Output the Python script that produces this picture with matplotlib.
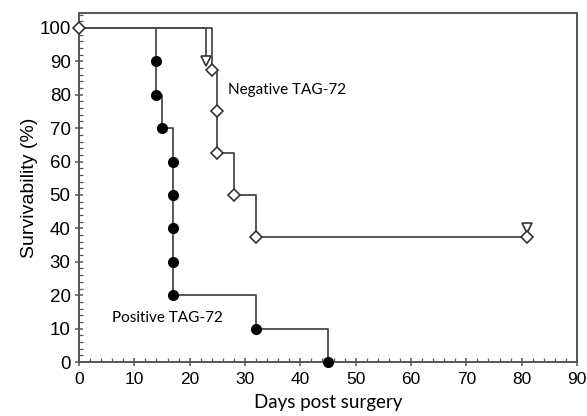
import matplotlib
matplotlib.use("Agg")
import matplotlib.pyplot as plt
from matplotlib.ticker import MultipleLocator

# positive TAG-72 (filled circles)
pos_days = [0, 14, 14, 15, 17, 17, 17, 17, 17, 32, 45]
pos_surv = [100, 90, 80, 70, 60, 50, 40, 30, 20, 10, 0]

# negative TAG-72 (open diamonds)
neg_days = [0, 24, 25, 25, 28, 32, 81]
neg_surv = [100, 87.5, 75, 62.5, 50, 37.5, 37.5]

# second negative curve (open triangles)
tri_days = [0, 23]
tri_surv = [100, 90]
tri_end_days = [23, 81]
tri_end_surv = [90, 40]

line_col = '#4a4a4a'

fig = plt.figure(figsize=(5.87, 4.16), dpi=100)
ax = fig.add_axes([0.1346, 0.1298, 0.8484, 0.8392])

ax.plot(tri_days, tri_surv, drawstyle='steps-post', color=line_col, lw=1.3)
ax.plot(tri_end_days, tri_end_surv, ls='none', marker='v', ms=7,
        mfc='white', mec='#333333', mew=1.2)

ax.plot(neg_days, neg_surv, drawstyle='steps-post', color=line_col, lw=1.3)
ax.plot(neg_days, neg_surv, ls='none', marker='D', ms=6,
        mfc='white', mec='#333333', mew=1.2, zorder=4, clip_on=False)

ax.plot(pos_days, pos_surv, drawstyle='steps-post', color=line_col, lw=1.3)
ax.plot(pos_days[1:], pos_surv[1:], ls='none', marker='o', ms=7,
        mfc='black', mec='black', zorder=5, clip_on=False)

ax.set_xlim(0, 90)
ax.set_ylim(0, 104.5)
ax.xaxis.set_major_locator(MultipleLocator(10))
ax.xaxis.set_minor_locator(MultipleLocator(2))
ax.yaxis.set_major_locator(MultipleLocator(10))
ax.yaxis.set_minor_locator(MultipleLocator(2))
ax.tick_params(which='major', direction='inout', length=6, width=1.1,
               color='#555555')
ax.tick_params(axis='x', which='major', labelsize=12.5, pad=4)
ax.tick_params(axis='y', which='major', labelsize=13.5, pad=3)
ax.tick_params(which='minor', direction='in', length=3, width=0.9, color='#555555')
for lab in ax.get_xticklabels() + ax.get_yticklabels():
    lab.set_family('Liberation Sans')

for s in ax.spines.values():
    s.set_color('#555555')
    s.set_linewidth(1.4)

ax.set_xlabel('Days post surgery', family='Lato', fontsize=13.5, labelpad=5)
ax.set_ylabel('Survivability (%)', family='Liberation Sans', fontsize=14, labelpad=1)

ax.text(27, 81.5, 'Negative TAG-72', family='Lato', fontsize=11, va='center')
ax.text(6, 13.2, 'Positive TAG-72', family='Lato', fontsize=11, va='center')

fig.savefig('out.png', dpi=100)
